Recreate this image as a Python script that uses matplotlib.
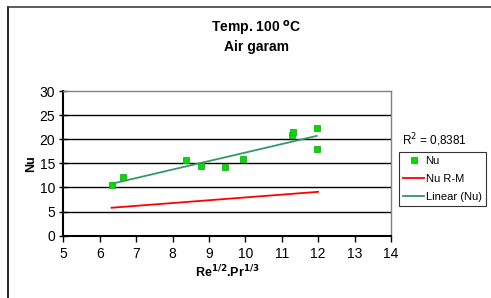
import matplotlib
matplotlib.use('Agg')
import matplotlib.pyplot as plt
import numpy as np
from matplotlib.lines import Line2D

plt.rcParams['font.family'] = ['Liberation Sans', 'DejaVu Sans']

# measured points
re_pr = [6.32, 6.63, 8.37, 8.79, 9.45, 9.93, 11.29, 11.31, 11.96, 11.96]
nu = [10.5, 12.2, 15.6, 14.4, 14.2, 16.0, 20.8, 21.4, 22.3, 18.0]

# Nu R-M correlation line
rm_x = [6.32, 12.0]
rm_nu = [5.8, 9.1]

r2_text = 'R$^2$ = 0,8381'
x_ticks = list(range(5, 15))
y_ticks = list(range(0, 31, 5))

fig = plt.figure(figsize=(4.91, 2.98), dpi=100)
ax = fig.add_axes([0.1293, 0.209, 0.667, 0.4856])

# linear trendline fitted to the measured points
coef = np.polyfit(re_pr, nu, 1)
fit_x = np.array([min(re_pr), max(re_pr)])
fit_y = np.polyval(coef, fit_x)

for yv in y_ticks[1:-1]:
    ax.axhline(yv, color='black', linewidth=1.0, zorder=1)

ax.plot(re_pr, nu, linestyle='none', marker='s', markersize=4.5,
        markerfacecolor='#00dd00', markeredgecolor='#22aa22', markeredgewidth=0.6,
        label='Nu', zorder=4)
ax.plot(rm_x, rm_nu, color='#ff0000', linewidth=1.3, label='Nu R-M', zorder=3)
ax.plot(fit_x, fit_y, color='#339966', linewidth=1.3, label='Linear (Nu)', zorder=3)

ax.set_xlim(5, 14)
ax.set_ylim(0, 30)
ax.set_xticks(x_ticks)
ax.set_yticks(y_ticks)
ax.tick_params(axis='x', direction='out', length=4, width=1, labelsize=10, pad=4)
ax.tick_params(axis='y', direction='inout', length=6, width=1, labelsize=10, pad=3)
for s in ['top', 'right']:
    ax.spines[s].set_color('#808080')
    ax.spines[s].set_linewidth(1.0)
ax.spines['left'].set_linewidth(1.5)
ax.spines['bottom'].set_linewidth(1.5)

ax.set_xlabel('Re$^{\\mathbf{1/2}}$.Pr$^{\\mathbf{1/3}}$', fontsize=9, fontweight='bold', labelpad=2)
ax.set_ylabel('Nu', fontsize=9, fontweight='bold', labelpad=2)

fig.text(0.523, 0.905, 'Temp. 100 $^{\\mathbf{o}}$C', ha='center', va='center',
         fontsize=10, fontweight='bold')
fig.text(0.523, 0.843, 'Air garam', ha='center', va='center',
         fontsize=10, fontweight='bold')
fig.text(0.818, 0.53, r2_text, ha='left', va='center', fontsize=8.5)

leg = ax.legend(loc='upper left', bbox_to_anchor=(1.024, 0.58), fontsize=8,
                frameon=True, fancybox=False, edgecolor='black', borderpad=0.4,
                handlelength=1.9, handletextpad=0.1, labelspacing=0.7, borderaxespad=0)
leg.get_frame().set_linewidth(0.8)

# chart area frame (left and top visible)
fig.add_artist(Line2D([8 / 491, 8 / 491], [0, 1 - 7 / 298], transform=fig.transFigure,
                      color='black', linewidth=1.2))
fig.add_artist(Line2D([8 / 491, 1], [1 - 7 / 298, 1 - 7 / 298], transform=fig.transFigure,
                      color='#404040', linewidth=1.2))

fig.savefig('out.png', dpi=100)
